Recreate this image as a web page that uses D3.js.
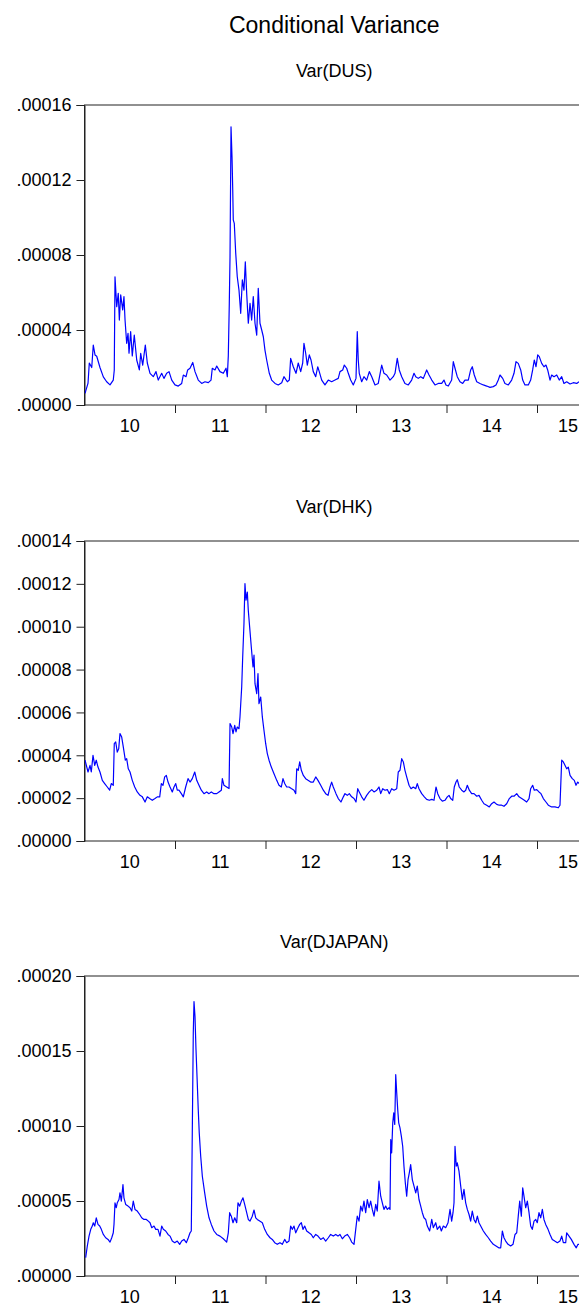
<!DOCTYPE html>
<html><head><meta charset="utf-8">
<script src="https://cdn.jsdelivr.net/npm/d3@7"></script>
<style>
html,body{margin:0;padding:0;background:#fff;}
svg{display:block;font-family:"Liberation Sans",Arial,sans-serif;}
</style>
</head><body>
<svg id="chart" width="579" height="1307"></svg>
<script>
// values are in units of 1e-5; times in years since BASE_YEAR
const UNIT = 1e-5;
const BASE_YEAR = 2010;
const yearLabels = ["10","11","12","13","14","15"];
const mainTitle = "Conditional Variance";

const usTicks = [0, 4, 8, 12, 16];
const hkTicks = [0, 2, 4, 6, 8, 10, 12, 14];
const jpTicks = [0, 5, 10, 15, 20];

const usYears = [0.006,0.039,0.053,0.080,0.097,0.116,0.135,0.171,0.208,0.245,0.282,0.318,0.329,0.337,0.356,0.373,0.385,0.400,0.422,0.436,0.448,0.466,0.481,0.492,0.510,0.528,0.550,0.577,0.606,0.621,0.643,0.672,0.694,0.724,0.760,0.790,0.815,0.853,0.878,0.908,0.934,0.964,1.000,1.036,1.074,1.092,1.122,1.140,1.166,1.196,1.221,1.257,1.295,1.331,1.368,1.398,1.412,1.442,1.461,1.497,1.534,1.564,1.578,1.589,1.600,1.608,1.619,1.630,1.638,1.644,1.655,1.671,1.688,1.707,1.726,1.744,1.762,1.777,1.792,1.810,1.829,1.847,1.865,1.884,1.903,1.920,1.939,1.958,1.976,1.994,2.013,2.042,2.068,2.105,2.141,2.179,2.204,2.241,2.263,2.278,2.307,2.337,2.362,2.389,2.411,2.425,2.444,2.462,2.484,2.503,2.528,2.555,2.577,2.594,2.621,2.657,2.694,2.731,2.768,2.804,2.823,2.853,2.871,2.897,2.915,2.941,2.970,3.000,3.014,3.025,3.036,3.063,3.088,3.118,3.147,3.174,3.210,3.246,3.284,3.309,3.339,3.376,3.412,3.431,3.456,3.478,3.505,3.541,3.578,3.615,3.641,3.660,3.688,3.715,3.744,3.781,3.807,3.837,3.873,3.909,3.947,3.972,3.994,4.020,4.057,4.075,4.094,4.119,4.149,4.179,4.204,4.241,4.267,4.285,4.307,4.334,4.370,4.407,4.444,4.481,4.517,4.547,4.572,4.591,4.621,4.646,4.683,4.720,4.746,4.768,4.793,4.820,4.842,4.867,4.904,4.930,4.952,4.970,4.989,5.008,5.025,5.052,5.077,5.099,5.118,5.144,5.162,5.188,5.218,5.246,5.273,5.298,5.328,5.365,5.401,5.439,5.464];
const usVar = [0.62,1.17,2.24,2.0,3.2,2.67,2.6,2.0,1.5,1.24,1.07,1.33,1.87,6.84,5.24,5.96,4.53,5.87,5.07,5.78,4.53,3.29,3.82,2.76,3.91,2.62,3.73,2.4,1.87,2.76,2.13,3.2,2.24,1.69,1.51,1.78,1.33,1.69,1.42,1.69,1.78,1.33,1.07,1.01,1.15,1.6,1.51,1.87,1.96,2.27,1.78,1.33,1.15,1.24,1.19,1.33,1.96,1.87,2.08,1.78,1.69,1.96,1.51,2.62,5.42,7.91,14.84,13.24,11.47,9.87,9.69,8.09,6.84,6.13,4.89,6.67,6.13,7.64,5.96,4.36,5.42,4.53,5.78,4.36,3.73,6.22,4.36,4.0,3.64,2.93,2.4,1.69,1.33,1.15,1.07,1.19,1.51,1.24,1.33,2.49,2.04,1.69,2.24,1.78,2.24,3.29,2.76,2.13,2.67,2.4,1.78,1.51,2.04,1.78,1.33,1.07,1.33,1.24,1.33,1.42,1.78,1.87,2.13,1.96,1.69,1.33,1.07,1.42,3.91,2.4,1.69,1.24,1.51,1.33,1.78,1.51,1.07,1.15,2.13,1.69,1.6,1.33,1.51,1.69,2.49,1.87,1.51,1.15,1.07,1.33,1.69,1.51,1.42,1.51,1.42,1.87,1.6,1.33,1.07,1.15,1.15,1.33,1.07,1.01,1.33,2.31,1.96,1.51,1.24,1.15,1.33,1.33,1.87,2.04,1.6,1.24,1.15,1.07,1.01,0.94,0.98,1.07,1.33,1.6,1.42,1.15,1.07,1.33,1.69,2.31,2.22,1.87,1.33,1.07,1.07,1.33,1.87,2.4,2.04,2.67,2.58,2.22,2.04,2.13,1.87,1.33,1.6,1.51,1.6,1.33,1.51,1.15,1.24,1.12,1.19,1.15,1.24];

const hkYears = [0.006,0.039,0.061,0.075,0.094,0.113,0.130,0.149,0.171,0.197,0.223,0.252,0.278,0.296,0.318,0.329,0.345,0.362,0.378,0.392,0.411,0.429,0.451,0.466,0.484,0.503,0.528,0.555,0.583,0.613,0.639,0.669,0.694,0.720,0.749,0.779,0.804,0.831,0.849,0.867,0.886,0.904,0.923,0.945,0.970,0.989,1.008,1.025,1.044,1.070,1.092,1.118,1.144,1.166,1.191,1.218,1.240,1.265,1.291,1.320,1.350,1.376,1.401,1.431,1.461,1.486,1.512,1.523,1.541,1.571,1.597,1.608,1.627,1.641,1.660,1.674,1.688,1.707,1.718,1.737,1.748,1.762,1.773,1.785,1.799,1.810,1.825,1.843,1.862,1.873,1.884,1.903,1.917,1.928,1.947,1.965,1.983,2.002,2.020,2.039,2.064,2.094,2.124,2.149,2.175,2.193,2.212,2.234,2.260,2.285,2.315,2.334,2.345,2.362,2.378,2.396,2.418,2.444,2.470,2.499,2.528,2.555,2.580,2.610,2.639,2.665,2.691,2.713,2.731,2.749,2.779,2.804,2.834,2.860,2.878,2.904,2.926,2.952,2.978,3.000,3.019,3.036,3.063,3.088,3.118,3.147,3.174,3.199,3.229,3.254,3.273,3.295,3.320,3.346,3.368,3.394,3.420,3.450,3.467,3.486,3.505,3.523,3.541,3.560,3.586,3.608,3.633,3.660,3.677,3.696,3.726,3.755,3.781,3.810,3.837,3.862,3.884,3.903,3.928,3.954,3.983,4.009,4.028,4.046,4.069,4.086,4.105,4.119,4.141,4.168,4.193,4.212,4.230,4.252,4.278,4.304,4.334,4.359,4.389,4.414,4.444,4.473,4.499,4.525,4.555,4.583,4.610,4.635,4.665,4.694,4.720,4.746,4.776,4.801,4.831,4.860,4.886,4.912,4.930,4.952,4.970,4.997,5.022,5.044,5.070,5.099,5.125,5.162,5.199,5.235,5.254,5.273,5.291,5.309,5.328,5.346,5.365,5.390,5.412,5.431,5.450,5.467];
const hkVar = [3.77,3.22,3.53,3.22,4.0,3.53,3.77,3.45,3.22,2.83,2.68,2.52,2.37,2.68,2.6,4.54,4.62,4.15,4.3,5.01,4.85,4.38,3.77,3.84,3.37,3.22,2.83,2.52,2.29,2.13,2.06,1.82,2.06,1.98,1.9,1.98,2.06,2.06,2.68,2.6,2.99,3.06,2.75,2.52,2.29,2.52,2.68,2.37,2.37,2.21,2.06,2.52,2.91,2.75,2.91,3.22,2.83,2.6,2.37,2.21,2.29,2.21,2.29,2.21,2.21,2.29,2.37,2.91,2.6,2.52,2.45,5.48,5.32,5.01,5.4,5.09,5.32,5.24,5.79,7.19,8.59,10.14,12.01,11.24,11.62,10.76,9.98,9.05,8.12,8.67,7.34,6.88,7.81,6.41,6.72,5.79,5.17,4.54,4.08,3.77,3.45,3.14,2.83,2.6,2.52,2.91,2.68,2.52,2.52,2.45,2.37,2.21,3.37,3.3,3.69,3.3,3.06,2.91,2.83,2.75,2.75,2.99,2.83,2.6,2.37,2.21,2.13,2.52,2.75,2.52,2.21,1.98,1.82,2.06,2.21,2.13,2.21,2.06,1.98,1.82,2.44,2.29,2.06,1.9,2.13,2.29,2.4,2.29,2.37,2.52,2.21,2.44,2.37,2.4,2.21,2.44,2.37,2.44,3.22,3.3,3.84,3.69,3.3,2.99,2.6,2.44,2.52,2.44,2.68,2.44,2.21,2.06,1.94,1.9,1.94,1.9,2.52,2.21,1.98,1.86,1.9,2.06,2.13,1.98,1.9,2.52,2.75,2.86,2.52,2.37,2.29,2.37,2.6,2.37,2.21,2.21,2.09,2.13,1.9,1.74,1.67,1.59,1.74,1.82,1.71,1.67,1.67,1.62,1.74,1.98,2.09,2.09,2.21,2.06,1.98,1.9,1.82,1.98,2.44,2.6,2.37,2.4,2.29,2.21,1.98,1.82,1.67,1.59,1.59,1.55,1.67,3.77,3.69,3.53,3.37,3.45,3.06,2.91,2.83,2.6,2.75,2.68];

const jpYears = [0.013,0.031,0.050,0.069,0.086,0.097,0.113,0.130,0.149,0.168,0.186,0.208,0.234,0.260,0.282,0.301,0.318,0.326,0.337,0.351,0.362,0.381,0.392,0.407,0.425,0.436,0.455,0.481,0.503,0.522,0.539,0.558,0.583,0.610,0.632,0.657,0.683,0.705,0.724,0.743,0.768,0.787,0.812,0.834,0.853,0.871,0.897,0.923,0.945,0.970,0.997,1.025,1.052,1.074,1.099,1.125,1.147,1.166,1.180,1.191,1.202,1.210,1.221,1.232,1.246,1.257,1.268,1.284,1.302,1.328,1.350,1.376,1.401,1.431,1.461,1.497,1.534,1.571,1.589,1.604,1.622,1.641,1.660,1.682,1.696,1.715,1.733,1.751,1.770,1.792,1.810,1.829,1.854,1.873,1.892,1.909,1.936,1.965,1.991,2.020,2.050,2.075,2.102,2.130,2.160,2.186,2.212,2.234,2.260,2.278,2.296,2.315,2.334,2.359,2.378,2.396,2.414,2.433,2.455,2.481,2.506,2.528,2.555,2.580,2.610,2.639,2.665,2.694,2.720,2.749,2.776,2.801,2.823,2.849,2.875,2.904,2.930,2.952,2.978,2.997,3.014,3.033,3.052,3.070,3.088,3.107,3.125,3.144,3.162,3.180,3.199,3.218,3.235,3.254,3.273,3.291,3.309,3.328,3.346,3.365,3.376,3.384,3.394,3.406,3.417,3.428,3.439,3.450,3.461,3.472,3.486,3.501,3.516,3.530,3.545,3.560,3.575,3.589,3.604,3.622,3.641,3.660,3.677,3.696,3.715,3.733,3.751,3.770,3.788,3.814,3.837,3.854,3.881,3.898,3.925,3.943,3.965,3.991,4.017,4.039,4.057,4.072,4.083,4.094,4.108,4.119,4.138,4.157,4.175,4.193,4.212,4.230,4.249,4.267,4.285,4.304,4.323,4.341,4.359,4.378,4.407,4.433,4.462,4.488,4.517,4.547,4.577,4.599,4.617,4.635,4.654,4.680,4.709,4.735,4.757,4.776,4.793,4.809,4.827,4.842,4.856,4.875,4.893,4.912,4.930,4.948,4.967,4.986,5.003,5.022,5.041,5.059,5.077,5.096,5.122,5.144,5.169,5.196,5.225,5.254,5.273,5.291,5.317,5.328,5.354,5.379,5.409,5.434,5.453,5.464];
const jpVar = [1.22,2.0,2.66,3.11,3.33,3.55,3.33,3.88,3.44,3.33,3.11,2.77,2.55,2.44,2.26,2.55,2.88,3.44,4.88,4.55,4.88,5.1,5.54,4.99,6.1,5.21,4.77,4.66,4.55,4.33,4.99,4.44,4.33,4.1,3.88,3.77,3.77,3.66,3.55,3.22,3.33,3.11,3.11,2.66,3.33,3.11,3.0,2.77,2.66,2.33,2.22,2.33,2.11,2.33,2.44,2.22,2.55,2.88,3.0,9.54,16.2,18.3,17.3,15.1,12.87,11.09,9.54,7.98,6.65,5.54,4.66,3.88,3.44,3.0,2.77,2.66,2.48,2.26,2.88,4.22,3.99,3.55,3.88,3.55,4.88,4.66,4.99,5.21,4.77,4.22,3.77,3.66,3.99,4.4,3.88,3.77,3.66,3.55,3.11,2.77,2.55,2.44,2.22,2.11,2.22,2.11,2.44,2.22,2.33,3.33,3.11,3.33,2.88,3.22,3.44,3.55,3.11,3.33,3.0,2.88,2.77,2.55,2.77,2.66,2.44,2.55,2.33,2.55,2.77,2.66,2.77,2.66,2.77,2.48,2.66,2.77,2.55,2.26,2.11,3.11,3.99,3.66,4.66,4.33,4.99,4.22,5.1,4.55,4.99,4.44,3.99,4.77,4.33,6.32,5.32,4.88,4.44,4.66,4.44,4.55,4.44,9.1,8.21,10.21,10.87,10.1,13.42,12.2,11.09,10.21,9.87,9.32,8.65,7.32,6.21,5.32,6.43,6.88,7.43,6.43,5.99,5.54,5.99,5.1,4.66,4.22,3.88,3.77,3.33,3.0,3.77,3.22,3.55,3.11,3.33,3.0,3.33,3.22,3.55,4.44,3.66,4.22,4.88,8.65,7.32,7.54,6.99,5.99,5.1,5.77,4.88,4.44,4.1,3.66,4.33,3.77,3.55,3.99,3.55,3.33,3.0,2.77,2.55,2.33,2.11,2.0,1.88,1.88,3.0,2.55,2.33,2.11,2.0,2.11,2.77,2.88,3.99,4.99,3.99,5.88,5.32,4.55,4.99,4.22,3.33,3.11,3.66,3.77,3.55,4.22,3.88,4.44,3.77,3.44,3.11,2.77,2.44,2.33,2.22,2.33,2.66,2.22,2.22,2.88,2.66,2.44,2.11,1.88,2.11,2.11];

const panels = [
  {name: "Var(DUS)", years: usYears, vals: usVar, ticks: usTicks, top: 105},
  {name: "Var(DHK)", years: hkYears, vals: hkVar, ticks: hkTicks, top: 541},
  {name: "Var(DJAPAN)", years: jpYears, vals: jpVar, ticks: jpTicks, top: 976}
];

const W = 579;
const left = 84.5, right = 584, yearPx = 90.5, plotH = 300;
const svg = d3.select("#chart");

const x = d3.scaleLinear().domain([0, 6]).range([left, left + 6 * yearPx]);

svg.append("text").attr("x", (left + right) / 2).attr("y", 33)
  .attr("text-anchor", "middle").attr("font-size", 23).attr("fill", "#000").text(mainTitle);

svg.append("defs").selectAll("clipPath").data(panels).join("clipPath")
  .attr("id", (d, i) => "clip" + i)
  .append("rect").attr("x", left).attr("y", d => d.top).attr("width", right - left).attr("height", plotH);

const fmt = v => d3.format(".5f")(v * UNIT).replace(/^0/, "");

panels.forEach((p, i) => {
  const yMax = p.ticks[p.ticks.length - 1];
  const y = d3.scaleLinear().domain([0, yMax * UNIT]).range([p.top + plotH, p.top]);
  const g = svg.append("g");

  g.append("text").attr("x", (left + right) / 2).attr("y", p.top - 28)
    .attr("text-anchor", "middle").attr("font-size", 18).attr("fill", "#000").text(p.name);

  // frame
  g.append("rect").attr("x", left).attr("y", p.top).attr("width", right - left).attr("height", plotH)
    .attr("fill", "none").attr("stroke", "#222").attr("stroke-width", 1);

  // y axis
  const ya = g.append("g").attr("transform", `translate(${left},0)`)
    .call(d3.axisLeft(y).tickValues(p.ticks.map(t => t * UNIT)).tickFormat(v => fmt(v / UNIT)).tickSize(8).tickPadding(5));
  ya.select(".domain").attr("stroke", "#222");
  ya.selectAll(".tick line").attr("stroke", "#222");
  ya.selectAll("text").attr("font-size", 18).attr("fill", "#000")
    .attr("font-family", '"Liberation Sans",Arial,sans-serif');

  // x axis ticks at year boundaries
  const xa = g.append("g").attr("transform", `translate(0,${p.top + plotH})`)
    .call(d3.axisBottom(x).tickValues([1, 2, 3, 4, 5]).tickFormat("").tickSize(8));
  xa.select(".domain").remove();
  xa.selectAll(".tick line").attr("stroke", "#222");

  // year labels, centred in each year's span (clamped to the visible area)
  g.selectAll("text.yl").data(yearLabels).join("text").attr("class", "yl")
    .attr("x", (d, k) => Math.min(x(k + 0.5), W - 11))
    .attr("y", p.top + plotH + 27)
    .attr("text-anchor", "middle").attr("font-size", 18).attr("fill", "#000").text(d => d);

  const data = p.years.map((t, k) => [t, p.vals[k]]);
  const line = d3.line().x(d => x(d[0])).y(d => y(d[1] * UNIT));
  g.append("path").datum(data).attr("clip-path", `url(#clip${i})`)
    .attr("d", line).attr("fill", "none").attr("stroke", "#0000ff").attr("stroke-width", 1.2)
    .attr("stroke-linejoin", "round");
});
</script>
</body></html>
